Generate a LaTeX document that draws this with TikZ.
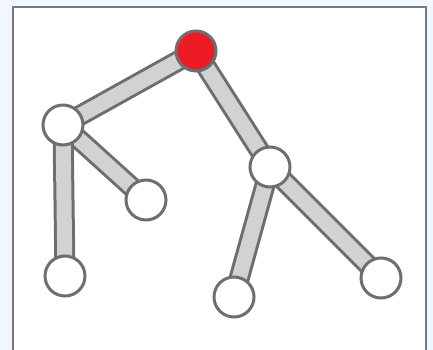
\documentclass[tikz,border=0pt]{standalone}
\begin{document}
\begin{tikzpicture}[x=1pt,y=-1pt,
  treenode/.style={circle,draw=nodegray,line width=3pt,fill=white,minimum size=40pt,inner sep=0pt},
  rootnode/.style={treenode,fill=rootred},
  barout/.style={draw=nodegray,line width=21pt},
  barin/.style={draw=barfill,line width=15pt}]
\definecolor{nodegray}{HTML}{6D6E70}
\definecolor{barfill}{HTML}{D1D2D4}
\definecolor{rootred}{HTML}{ED1C24}
\definecolor{bgblue}{HTML}{F0F7FE}
\definecolor{framegray}{HTML}{77797B}
\useasboundingbox (0,0) rectangle (433,350);
\fill[bgblue] (0,0) rectangle (433,350);
\filldraw[fill=white,draw=framegray,line width=2pt] (13,7) rectangle (426,360);
\coordinate (r) at (196,51);
\coordinate (a) at (63,125);
\coordinate (a1) at (146,200);
\coordinate (a2) at (65,276);
\coordinate (b) at (270,167);
\coordinate (b1) at (234,297);
\coordinate (b2) at (381,278);
\foreach \u/\v in {r/a,a/a1,a/a2,r/b,b/b1,b/b2}{
  \draw[barout] (\u) -- (\v);
  \draw[barin] (\u) -- (\v);
}
\node[rootnode] (R) at (r) {};
\node[treenode] (A) at (a) {};
\node[treenode] (A1) at (a1) {};
\node[treenode] (A2) at (a2) {};
\node[treenode] (B) at (b) {};
\node[treenode] (B1) at (b1) {};
\node[treenode] (B2) at (b2) {};
\end{tikzpicture}
\end{document}
